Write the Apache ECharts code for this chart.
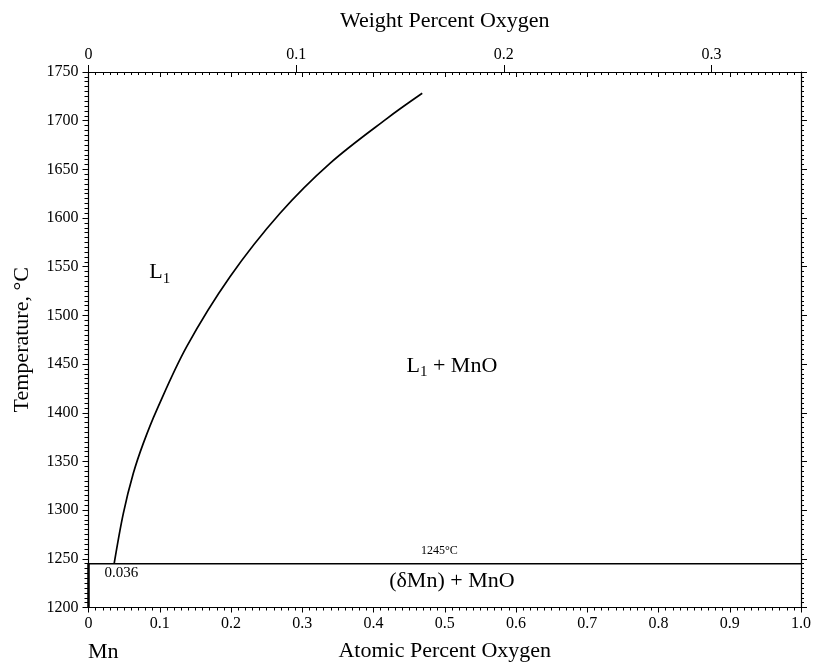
<!DOCTYPE html>
<html>
<head>
<meta charset="utf-8">
<script src="https://cdn.jsdelivr.net/npm/echarts@6/dist/echarts.min.js"></script>
<style>
html,body{margin:0;padding:0;background:#fff;}
#c{width:814px;height:666px;}
</style>
</head>
<body>
<div id="c"></div>
<script>
// Liquidus curve (atomic percent O, temperature °C)
const liquidusAt = [0.036, 0.0489, 0.0629, 0.0769, 0.0957, 0.1378, 0.1986, 0.2688, 0.3389, 0.4192, 0.4684];
const liquidusT  = [1245, 1296.7, 1337.8, 1368.6, 1402.8, 1467.9, 1539.7, 1604.9, 1656.2, 1702.4, 1728.1];
// Isotherm
const eutecticT = 1245;
const eutecticAt = [0, 1.0];
// Pure Mn edge
const mnEdgeT = [1200, 1245];
// Axis settings
const atRange = [0, 1.0];
const wtRange = [0, 0.3431];
const tRange = [1200, 1750];
// Region / point labels (data coordinates)
const labelText = ['{a|L}{s|1}', '{a|L}{s|1}{a| + MnO}', '{a|(δMn) + MnO}', '{t|1245°C}', '{u|0.036}'];
const labelAt   = [0.100, 0.510, 0.510, 0.4926, 0.0463];
const labelT    = [1544, 1448, 1227, 1258.5, 1235];

const FONT = '"Liberation Serif", "Times New Roman", serif';
const chart = echarts.init(document.getElementById('c'), null, {renderer: 'canvas'});

function numFmt(v){ if (Math.abs(v) < 1e-9) return '0'; return v.toFixed(1); }
function tFmt(v){ return String(Math.round(v)); }

const axLine = {show: true, onZero: false, lineStyle: {color: '#000', width: 1.2}};
const noBorder = {textBorderWidth: 0, textBorderColor: 'transparent', textShadowBlur: 0};

const option = {
  animation: false,
  backgroundColor: '#fff',
  grid: {left: 88.5, right: 13, top: 72, bottom: 58.5, containLabel: false, outerBoundsMode: 'none'},
  xAxis: [
    { type: 'value', position: 'bottom', min: atRange[0], max: atRange[1], interval: 0.1,
      name: 'Atomic Percent Oxygen', nameLocation: 'middle', nameGap: 33,
      nameTextStyle: {fontFamily: FONT, fontSize: 22, color: '#000'},
      axisLine: axLine,
      axisTick: {show: true, inside: false, length: 5, lineStyle: {color: '#000', width: 1}},
      minorTick: {show: true, splitNumber: 10, length: 3, lineStyle: {color: '#000', width: 1}},
      axisLabel: {fontFamily: FONT, fontSize: 16, color: '#000', margin: 8, formatter: numFmt, showMinLabel: true, showMaxLabel: true},
      splitLine: {show: false}
    },
    { type: 'value', position: 'top', min: wtRange[0], max: wtRange[1], interval: 0.1,
      name: 'Weight Percent Oxygen', nameLocation: 'middle', nameGap: 40,
      nameTextStyle: {fontFamily: FONT, fontSize: 22, color: '#000'},
      axisLine: axLine,
      axisTick: {show: true, inside: false, length: 7, lineStyle: {color: '#000', width: 1}},
      minorTick: {show: false},
      axisLabel: {fontFamily: FONT, fontSize: 16, color: '#000', margin: 9, formatter: numFmt, showMinLabel: true, showMaxLabel: false},
      splitLine: {show: false}
    },
    { type: 'value', position: 'top', min: atRange[0], max: atRange[1], interval: 0.1,
      axisLine: {show: false, onZero: false},
      axisTick: {show: true, inside: true, length: 5, lineStyle: {color: '#000', width: 1}},
      minorTick: {show: true, splitNumber: 10, length: 3, lineStyle: {color: '#000', width: 1}},
      axisLabel: {show: false},
      splitLine: {show: false}
    }
  ],
  yAxis: [
    { type: 'value', position: 'left', min: tRange[0], max: tRange[1], interval: 50,
      name: 'Temperature, °C', nameLocation: 'middle', nameGap: 55, nameRotate: 90,
      nameTextStyle: {fontFamily: FONT, fontSize: 22, color: '#000'},
      axisLine: axLine,
      axisTick: {show: true, inside: false, length: 6, lineStyle: {color: '#000', width: 1}},
      minorTick: {show: true, splitNumber: 10, length: 4, lineStyle: {color: '#000', width: 1}},
      axisLabel: {fontFamily: FONT, fontSize: 16, color: '#000', margin: 10, formatter: tFmt},
      splitLine: {show: false}
    },
    { type: 'value', position: 'right', min: tRange[0], max: tRange[1], interval: 50,
      axisLine: axLine,
      axisTick: {show: true, inside: false, length: 6, lineStyle: {color: '#000', width: 1}},
      minorTick: {show: true, splitNumber: 10, length: 3, lineStyle: {color: '#000', width: 1}},
      axisLabel: {show: false},
      splitLine: {show: false}
    }
  ],
  series: [
    { type: 'line', name: 'liquidus', xAxisIndex: 0, yAxisIndex: 0, smooth: 0.35, symbol: 'none',
      lineStyle: {color: '#000', width: 1.7},
      data: liquidusAt.map((x, i) => [x, liquidusT[i]]) },
    { type: 'line', name: 'isotherm', xAxisIndex: 0, yAxisIndex: 0, symbol: 'none',
      lineStyle: {color: '#000', width: 1.6},
      data: eutecticAt.map(x => [x, eutecticT]) },
    { type: 'line', name: 'mnEdge', xAxisIndex: 0, yAxisIndex: 0, symbol: 'none',
      lineStyle: {color: '#000', width: 2.5},
      data: mnEdgeT.map(t => [0, t]) },
    { type: 'scatter', name: 'labels', xAxisIndex: 0, yAxisIndex: 0, symbolSize: 0, silent: true,
      itemStyle: {color: '#000', opacity: 1},
      label: Object.assign({show: true, position: 'inside', color: '#000', opacity: 1, fontFamily: FONT,
        formatter: p => labelText[p.dataIndex],
        rich: {
          a: Object.assign({fontFamily: FONT, fontSize: 22, color: '#000', lineHeight: 26}, noBorder),
          s: Object.assign({fontFamily: FONT, fontSize: 15, color: '#000', lineHeight: 26, padding: [12, 0, 0, 0]}, noBorder),
          t: Object.assign({fontFamily: FONT, fontSize: 12, color: '#000'}, noBorder),
          u: Object.assign({fontFamily: FONT, fontSize: 15, color: '#000'}, noBorder)
        }}, noBorder),
      data: labelAt.map((x, i) => [x, labelT[i]]) }
  ],
  graphic: [
    { type: 'text', left: 88, top: 641, style: {text: 'Mn', font: '22px ' + FONT, fill: '#000'} }
  ]
};
chart.setOption(option);
</script>
</body>
</html>
